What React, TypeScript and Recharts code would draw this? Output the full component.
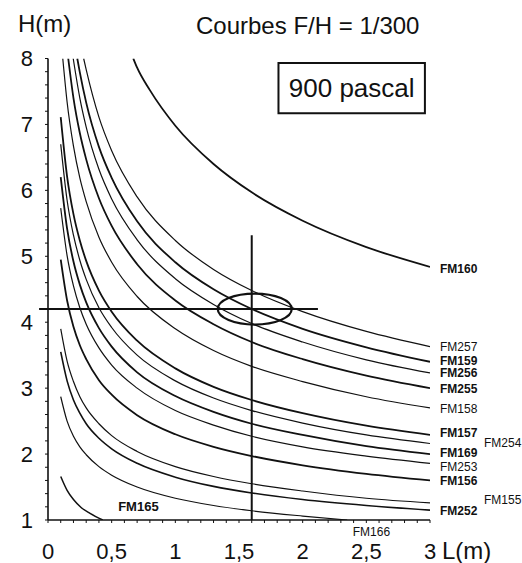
import React from 'react';
import {
  LineChart,
  Line,
  XAxis,
  YAxis,
  ReferenceLine,
  ReferenceArea,
  ReferenceDot,
} from 'recharts';

type Pt = [number, number];

// Curves: [L (m), H (m)]
const FM160: Pt[] = [[0.67, 8], [0.7, 7.86], [0.8, 7.52], [1.0, 6.98], [1.3, 6.4], [1.6, 5.97], [2.0, 5.54], [2.5, 5.14], [3.0, 4.84]];
const FM257: Pt[] = [[0.28, 8], [0.3, 7.83], [0.4, 7.11], [0.5, 6.6], [0.7, 5.9], [1.0, 5.24], [1.3, 4.8], [1.6, 4.48], [2.0, 4.16], [2.5, 3.86], [3.0, 3.63]];
const FM159: Pt[] = [[0.23, 8], [0.25, 7.79], [0.3, 7.33], [0.4, 6.66], [0.5, 6.19], [0.7, 5.53], [1.0, 4.91], [1.3, 4.5], [1.6, 4.2], [2.0, 3.9], [2.5, 3.62], [3.0, 3.4]];
const FM256: Pt[] = [[0.198, 8], [0.25, 7.4], [0.3, 6.96], [0.4, 6.32], [0.5, 5.87], [0.7, 5.25], [1.0, 4.66], [1.3, 4.27], [1.6, 3.98], [2.0, 3.7], [2.5, 3.43], [3.0, 3.23]];
const FM255: Pt[] = [[0.159, 8], [0.2, 7.4], [0.25, 6.87], [0.3, 6.47], [0.4, 5.88], [0.5, 5.46], [0.7, 4.88], [1.0, 4.33], [1.3, 3.97], [1.6, 3.7], [2.0, 3.44], [2.5, 3.19], [3.0, 3.0]];
const FM158: Pt[] = [[0.116, 8], [0.15, 7.34], [0.2, 6.67], [0.25, 6.19], [0.3, 5.83], [0.4, 5.29], [0.5, 4.91], [0.7, 4.39], [1.0, 3.9], [1.3, 3.57], [1.6, 3.33], [2.0, 3.1], [2.5, 2.87], [3.0, 2.7]];
const FM157: Pt[] = [[0.1, 7.11], [0.15, 6.21], [0.2, 5.64], [0.25, 5.24], [0.3, 4.93], [0.4, 4.48], [0.5, 4.16], [0.7, 3.72], [1.0, 3.3], [1.3, 3.02], [1.6, 2.82], [2.0, 2.62], [2.5, 2.43], [3.0, 2.29]];
const FM254: Pt[] = [[0.1, 6.7], [0.15, 5.85], [0.2, 5.32], [0.25, 4.94], [0.3, 4.65], [0.4, 4.22], [0.5, 3.92], [0.7, 3.5], [1.0, 3.11], [1.3, 2.85], [1.6, 2.66], [2.0, 2.47], [2.5, 2.29], [3.0, 2.16]];
const FM169: Pt[] = [[0.1, 6.2], [0.15, 5.42], [0.2, 4.92], [0.25, 4.57], [0.3, 4.3], [0.4, 3.91], [0.5, 3.63], [0.7, 3.24], [1.0, 2.88], [1.3, 2.64], [1.6, 2.46], [2.0, 2.29], [2.5, 2.12], [3.0, 2.0]];
const FM253: Pt[] = [[0.1, 5.73], [0.15, 5.01], [0.2, 4.55], [0.25, 4.22], [0.3, 3.97], [0.4, 3.61], [0.5, 3.35], [0.7, 3.0], [1.0, 2.66], [1.3, 2.44], [1.6, 2.27], [2.0, 2.11], [2.5, 1.97], [3.0, 1.86]];
const FM156: Pt[] = [[0.1, 4.95], [0.15, 4.33], [0.2, 3.93], [0.25, 3.65], [0.3, 3.44], [0.4, 3.12], [0.5, 2.9], [0.7, 2.59], [1.0, 2.3], [1.3, 2.11], [1.6, 1.97], [2.0, 1.83], [2.5, 1.7], [3.0, 1.6]];
const FM155: Pt[] = [[0.1, 3.9], [0.15, 3.41], [0.2, 3.1], [0.25, 2.87], [0.3, 2.7], [0.4, 2.46], [0.5, 2.28], [0.7, 2.04], [1.0, 1.81], [1.3, 1.66], [1.6, 1.55], [2.0, 1.44], [2.5, 1.33], [3.0, 1.26]];
const FM252: Pt[] = [[0.1, 3.55], [0.15, 3.11], [0.2, 2.82], [0.25, 2.62], [0.3, 2.46], [0.4, 2.24], [0.5, 2.08], [0.7, 1.86], [1.0, 1.65], [1.3, 1.51], [1.6, 1.41], [2.0, 1.31], [2.5, 1.22], [3.0, 1.15]];
const FM166: Pt[] = [[0.1, 2.87], [0.15, 2.5], [0.2, 2.27], [0.25, 2.11], [0.3, 1.99], [0.4, 1.81], [0.5, 1.68], [0.7, 1.5], [1.0, 1.33], [1.3, 1.22], [1.6, 1.14], [2.0, 1.06], [2.35, 1.0]];
const FM165: Pt[] = [[0.1, 1.66], [0.15, 1.45], [0.2, 1.31], [0.26, 1.19], [0.33, 1.1], [0.43, 1.0]];

const X_MINOR_TICKS = Array.from({ length: 31 }, (_, i) => i / 10);
const Y_MINOR_TICKS = Array.from({ length: 36 }, (_, i) => 1 + (i * 2) / 10);

const CROSS_L = 1.6;
const CROSS_H = 4.2;
const CROSS_H_TOP = 5.32;
const CROSS_L_START = -0.07;
const CROSS_L_END = 2.12;

const BOX_L = [1.81, 2.96];
const BOX_H = [7.17, 7.93];

// label styling (offsets in px relative to the curve end)
type Curve = { name: string; pts: Pt[]; width: number; label?: { dx: number; dy: number; bold: boolean; size: number } };
const curves: Curve[] = [
  { name: 'FM160', pts: FM160, width: 1.8, label: { dx: 10, dy: 2, bold: true, size: 12 } },
  { name: 'FM257', pts: FM257, width: 1.2, label: { dx: 10, dy: 0, bold: false, size: 12 } },
  { name: 'FM159', pts: FM159, width: 1.8, label: { dx: 10, dy: -1, bold: true, size: 12 } },
  { name: 'FM256', pts: FM256, width: 1.2, label: { dx: 10, dy: 0.5, bold: true, size: 12 } },
  { name: 'FM255', pts: FM255, width: 1.8, label: { dx: 10, dy: 1, bold: true, size: 12 } },
  { name: 'FM158', pts: FM158, width: 1.2, label: { dx: 10, dy: 1.5, bold: false, size: 12 } },
  { name: 'FM157', pts: FM157, width: 1.8, label: { dx: 10, dy: -2, bold: true, size: 12 } },
  { name: 'FM254', pts: FM254, width: 1.2, label: { dx: 54, dy: -1, bold: false, size: 12 } },
  { name: 'FM169', pts: FM169, width: 1.8, label: { dx: 10, dy: -1.5, bold: true, size: 12 } },
  { name: 'FM253', pts: FM253, width: 1.2, label: { dx: 10, dy: 3.5, bold: false, size: 12 } },
  { name: 'FM156', pts: FM156, width: 1.8, label: { dx: 10, dy: 1, bold: true, size: 12 } },
  { name: 'FM155', pts: FM155, width: 1.2, label: { dx: 54, dy: -3, bold: false, size: 12 } },
  { name: 'FM252', pts: FM252, width: 1.6, label: { dx: 10, dy: 1, bold: true, size: 12 } },
  { name: 'FM166', pts: FM166, width: 1.2 },
  { name: 'FM165', pts: FM165, width: 1.5 },
];

const INK = '#111';
const FONT = '"Liberation Sans", Arial, Helvetica, sans-serif';

const EndLabel = (props: any) => {
  const { x, y, index, total, text, dx, dy, bold, size } = props;
  if (index !== total - 1 || x == null || y == null) return null;
  return (
    <text
      x={x + dx}
      y={y + dy}
      dominantBaseline="central"
      fontSize={size}
      fontWeight={bold ? 700 : 400}
      fill={INK}
      fontFamily={FONT}
    >
      {text}
    </text>
  );
};

const fmtX = (v: number) => (Math.round(v * 10) % 5 === 0 ? String(v).replace('.', ',') : '');
const fmtY = (v: number) => (Math.abs(v - Math.round(v)) < 1e-6 ? String(Math.round(v)) : '');

const textStyle: React.CSSProperties = {
  position: 'absolute',
  fontFamily: FONT,
  fontSize: 24,
  lineHeight: '24px',
  color: INK,
  whiteSpace: 'nowrap',
};

export default function App() {
  return (
    <div style={{ position: 'absolute', left: 0, top: 0, width: 522, height: 563, background: '#fff' }}>
      <LineChart
        width={522}
        height={563}
        margin={{ top: 58.5, right: 92, bottom: 0, left: 0 }}
        style={{ fontFamily: FONT }}
      >
        <XAxis
          xAxisId={0}
          type="number"
          dataKey="L"
          domain={[0, 3]}
          ticks={X_MINOR_TICKS}
          tickFormatter={fmtX}
          interval={0}
          allowDataOverflow
          height={43}
          tickSize={3}
          tickMargin={20}
          tick={{ fontSize: 22, fill: INK }}
          axisLine={{ stroke: INK, strokeWidth: 1.6 }}
          tickLine={{ stroke: INK, strokeWidth: 1 }}
        />
        <XAxis
          xAxisId="top"
          orientation="top"
          type="number"
          domain={[0, 3]}
          ticks={X_MINOR_TICKS}
          interval={0}
          height={0}
          tickSize={2}
          tick={false}
          axisLine={{ stroke: INK, strokeWidth: 1.4 }}
          tickLine={{ stroke: INK, strokeWidth: 1 }}
        />
        <YAxis
          yAxisId={0}
          type="number"
          domain={[1, 8]}
          ticks={Y_MINOR_TICKS}
          tickFormatter={fmtY}
          interval={0}
          allowDataOverflow
          width={48}
          tickSize={3}
          tickMargin={12}
          tick={{ fontSize: 22, fill: INK }}
          axisLine={{ stroke: INK, strokeWidth: 1.6 }}
          tickLine={{ stroke: INK, strokeWidth: 1 }}
        />
        <YAxis
          yAxisId="right"
          orientation="right"
          type="number"
          domain={[1, 8]}
          ticks={Y_MINOR_TICKS}
          interval={0}
          width={0}
          tickSize={2}
          tick={false}
          axisLine={{ stroke: INK, strokeWidth: 1.4 }}
          tickLine={{ stroke: INK, strokeWidth: 1 }}
        />

        <ReferenceArea
          x1={BOX_L[0]}
          x2={BOX_L[1]}
          y1={BOX_H[0]}
          y2={BOX_H[1]}
          fill="#fff"
          fillOpacity={1}
          stroke={INK}
          strokeWidth={2}
          label={{ value: '900 pascal', position: 'center', fontSize: 26, fill: INK }}
        />

        {curves.map((c) => (
          <Line
            key={c.name}
            data={c.pts.map(([L, H]) => ({ L, H }))}
            dataKey="H"
            type="monotone"
            stroke={INK}
            strokeWidth={c.width}
            dot={false}
            activeDot={false}
            isAnimationActive={false}
            label={
              c.label ? (
                <EndLabel
                  total={c.pts.length}
                  text={c.name}
                  dx={c.label.dx}
                  dy={c.label.dy}
                  bold={c.label.bold}
                  size={c.label.size}
                />
              ) : (
                false
              )
            }
          />
        ))}

        <ReferenceLine
          segment={[
            { x: CROSS_L_START, y: CROSS_H },
            { x: CROSS_L_END, y: CROSS_H },
          ]}
          stroke={INK}
          strokeWidth={2}
          ifOverflow="visible"
        />
        <ReferenceLine
          segment={[
            { x: CROSS_L, y: 1 },
            { x: CROSS_L, y: CROSS_H_TOP },
          ]}
          stroke={INK}
          strokeWidth={2}
          ifOverflow="visible"
        />
        <ReferenceDot
          x={CROSS_L}
          y={CROSS_H}
          r={1}
          ifOverflow="visible"
          shape={(p: any) => (
            <ellipse cx={p.cx + 3} cy={p.cy} rx={37} ry={15.5} fill="none" stroke={INK} strokeWidth={2.2} />
          )}
        />
        <ReferenceDot
          x={0.71}
          y={1.2}
          r={0}
          fill="none"
          stroke="none"
          ifOverflow="visible"
          label={{ value: 'FM165', position: 'center', fontSize: 13, fontWeight: 700, fill: INK }}
        />
        <ReferenceDot
          x={2.54}
          y={0.82}
          r={0}
          fill="none"
          stroke="none"
          ifOverflow="visible"
          label={{ value: 'FM166', position: 'center', fontSize: 12, fill: INK }}
        />
      </LineChart>

      <div style={{ ...textStyle, left: 18, top: 11.5 }}>H(m)</div>
      <div style={{ ...textStyle, left: 196, top: 13.5 }}>Courbes F/H = 1/300</div>
      <div style={{ ...textStyle, left: 442, top: 539 }}>L(m)</div>
    </div>
  );
}
